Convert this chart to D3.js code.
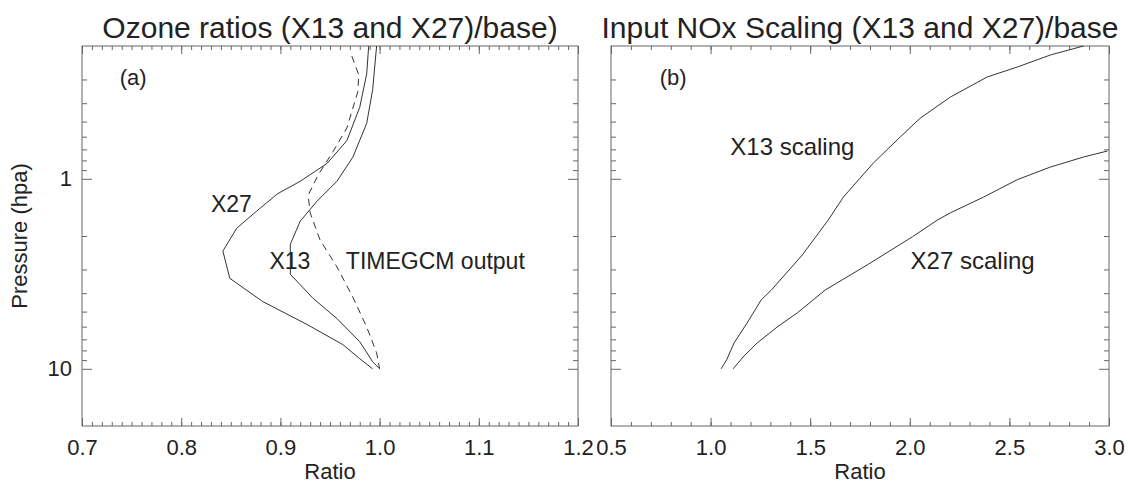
<!DOCTYPE html>
<html>
<head>
<meta charset="utf-8">
<script src="https://cdn.jsdelivr.net/npm/d3@7"></script>
<style>
  body { margin: 0; background: #fff; }
  svg text { font-family: "Liberation Sans", Arial, Helvetica, sans-serif; fill: #222; }
</style>
</head>
<body>
<div id="chart"></div>
<script>
// ---- data ----
// panel (a): ozone ratio vs pressure
const x27Pressure = [0.2, 0.28, 0.42, 0.63, 0.83, 1.03, 1.2, 1.48, 1.82, 2.4, 3.34, 4.42, 5.85, 7.46, 8.85, 10];
const x27Ratio    = [0.989, 0.987, 0.980, 0.967, 0.947, 0.920, 0.897, 0.876, 0.856, 0.842, 0.849, 0.882, 0.927, 0.963, 0.980, 0.993];

const x13Pressure = [0.2, 0.34, 0.51, 0.77, 1.03, 1.31, 1.67, 2.21, 3.18, 4.26, 5.44, 7.2, 9.18, 10];
const x13Ratio    = [0.997, 0.993, 0.987, 0.973, 0.957, 0.937, 0.920, 0.910, 0.910, 0.933, 0.957, 0.980, 0.993, 1.000];

const gcmPressure = [0.226, 0.284, 0.349, 0.54, 0.72, 0.955, 1.22, 1.51, 2.10, 2.91, 4.19, 6.03, 8.24, 10];
const gcmRatio    = [0.972, 0.979, 0.978, 0.967, 0.953, 0.938, 0.928, 0.930, 0.940, 0.957, 0.973, 0.987, 0.997, 1.000];

// panel (b): input NOx scaling vs pressure
const x13ScalePressure = [10, 8.99, 7.31, 5.74, 4.34, 3.85, 2.52, 1.65, 1.25, 0.826, 0.602, 0.479, 0.371, 0.291, 0.258, 0.223, 0.2];
const x13Scale         = [1.053, 1.080, 1.118, 1.183, 1.254, 1.305, 1.460, 1.590, 1.666, 1.817, 1.952, 2.053, 2.204, 2.389, 2.540, 2.706, 2.872];

const x27ScalePressure = [10, 8.67, 7.31, 6.03, 5.08, 4.34, 3.85, 2.84, 2.02, 1.65, 1.51, 1.25, 1.01, 0.867, 0.768, 0.714];
const x27Scale         = [1.113, 1.163, 1.234, 1.334, 1.435, 1.515, 1.575, 1.786, 2.013, 2.138, 2.204, 2.369, 2.540, 2.706, 2.872, 2.992];

// axes
const pressureDomain = [0.2, 20];
const pressureMajor = [1, 10];
const pressureMinor = [0.3, 0.4, 0.5, 0.6, 0.7, 0.8, 0.9, 2, 3, 4, 5, 6, 7, 8, 9];

const ratioDomainA = [0.7, 1.2];
const ratioMajorA = [0.7, 0.8, 0.9, 1.0, 1.1, 1.2];
const ratioLabelsA = ['0.7', '0.8', '0.9', '1.0', '1.1', '1.2'];
const ratioDomainB = [0.5, 3.0];
const ratioMajorB = [0.5, 1.0, 1.5, 2.0, 2.5, 3.0];
const ratioLabelsB = ['0.5', '1.0', '1.5', '2.0', '2.5', '3.0'];

const W = 1128, H = 486;
const plotTop = 46, plotBottom = 426;

const svg = d3.select('#chart').append('svg')
    .attr('width', W)
    .attr('height', H);

const yScale = d3.scaleLog()
    .domain(pressureDomain)
    .range([plotTop, plotBottom]);

const zip = (xs, ps) => xs.map((v, i) => ({v: v, p: ps[i]}));

function stepValues(a, b, step) { // minor tick values between a and b
    let out = [];
    let n = Math.round((b - a) / step);
    for (let i = 0; i <= n; i++) out.push(+(a + i * step).toFixed(4));
    return out;
}

function drawPanel(cfg) {
    const x = d3.scaleLinear().domain(cfg.domain).range([cfg.left, cfg.right]);
    const g = svg.append('g');
    const xMajLen = 8, xMinLen = 4, yMajLen = 10, yMinLen = 5;
    const minor = stepValues(cfg.domain[0], cfg.domain[1], cfg.minorStep);

    // bottom axis
    g.append('g').attr('transform', `translate(0,${plotBottom})`)
        .call(d3.axisBottom(x).tickValues(minor).tickSize(-xMinLen).tickFormat(''));
    g.append('g').attr('class', 'xlab').attr('transform', `translate(0,${plotBottom})`)
        .call(d3.axisBottom(x).tickValues(cfg.major).tickSize(-xMajLen).tickPadding(13)
            .tickFormat((d, i) => cfg.labels[i]));
    // top axis
    g.append('g').attr('transform', `translate(0,${plotTop})`)
        .call(d3.axisTop(x).tickValues(minor).tickSize(-xMinLen).tickFormat(''));
    g.append('g').attr('transform', `translate(0,${plotTop})`)
        .call(d3.axisTop(x).tickValues(cfg.major).tickSize(-xMajLen).tickFormat(''));
    // left axis
    g.append('g').attr('transform', `translate(${cfg.left},0)`)
        .call(d3.axisLeft(yScale).tickValues(pressureMinor).tickSize(-yMinLen).tickFormat(''));
    g.append('g').attr('class', 'ylab').attr('transform', `translate(${cfg.left},0)`)
        .call(d3.axisLeft(yScale).tickValues(pressureMajor).tickSize(-yMajLen).tickPadding(10)
            .tickFormat(d => cfg.yLabels ? String(d) : ''));
    // right axis
    g.append('g').attr('transform', `translate(${cfg.right},0)`)
        .call(d3.axisRight(yScale).tickValues(pressureMinor).tickSize(-yMinLen).tickFormat(''));
    g.append('g').attr('transform', `translate(${cfg.right},0)`)
        .call(d3.axisRight(yScale).tickValues(pressureMajor).tickSize(-yMajLen).tickFormat(''));

    g.selectAll('.domain').remove();
    g.selectAll('.tick line').attr('stroke', '#666').attr('stroke-width', 1);
    g.selectAll('.xlab text, .ylab text')
        .style('font-size', '22px')
        .attr('fill', '#222');

    // frame
    g.append('rect')
        .attr('x', cfg.left).attr('y', plotTop)
        .attr('width', cfg.right - cfg.left).attr('height', plotBottom - plotTop)
        .attr('fill', 'none').attr('stroke', '#666').attr('stroke-width', 1);

    // title + x title
    g.append('text')
        .attr('x', (cfg.left + cfg.right) / 2).attr('y', 38)
        .attr('text-anchor', 'middle').style('font-size', '30px')
        .text(cfg.title);
    g.append('text')
        .attr('x', (cfg.left + cfg.right) / 2).attr('y', 479)
        .attr('text-anchor', 'middle').style('font-size', '22px')
        .text('Ratio');

    // curves
    const line = d3.line().x(d => x(d.v)).y(d => yScale(d.p));
    cfg.series.forEach(s => {
        g.append('path')
            .datum(zip(s.v, s.p))
            .attr('d', line)
            .attr('fill', 'none')
            .attr('stroke', '#333')
            .attr('stroke-width', 1)
            .attr('stroke-dasharray', s.dash || null);
    });

    // in-plot labels (positions in data coordinates)
    cfg.notes.forEach(n => {
        g.append('text')
            .attr('x', x(n.v)).attr('y', yScale(n.p))
            .style('font-size', n.size + 'px')
            .text(n.text);
    });
}

drawPanel({
    left: 82, right: 578,
    domain: ratioDomainA, major: ratioMajorA, labels: ratioLabelsA, minorStep: 0.01,
    yLabels: true,
    title: 'Ozone ratios (X13 and X27)/base)',
    series: [
        {v: x27Ratio, p: x27Pressure},
        {v: x13Ratio, p: x13Pressure},
        {v: gcmRatio, p: gcmPressure, dash: '7,5'}
    ],
    notes: [
        {text: '(a)', v: 0.738, p: 0.32, size: 22},
        {text: 'X27', v: 0.830, p: 1.5, size: 23},
        {text: 'X13', v: 0.889, p: 3.0, size: 23},
        {text: 'TIMEGCM output', v: 0.966, p: 3.0, size: 23}
    ]
});

drawPanel({
    left: 611, right: 1109,
    domain: ratioDomainB, major: ratioMajorB, labels: ratioLabelsB, minorStep: 0.1,
    yLabels: false,
    title: 'Input NOx Scaling (X13 and X27)/base',
    series: [
        {v: x13Scale, p: x13ScalePressure},
        {v: x27Scale, p: x27ScalePressure}
    ],
    notes: [
        {text: '(b)', v: 0.745, p: 0.32, size: 22},
        {text: 'X13 scaling', v: 1.099, p: 0.75, size: 24},
        {text: 'X27 scaling', v: 2.004, p: 3.0, size: 24}
    ]
});

// y title
svg.append('text')
    .attr('transform', `translate(27,${(plotTop + plotBottom) / 2}) rotate(-90)`)
    .attr('text-anchor', 'middle')
    .style('font-size', '22px')
    .text('Pressure (hpa)');
</script>
</body>
</html>
